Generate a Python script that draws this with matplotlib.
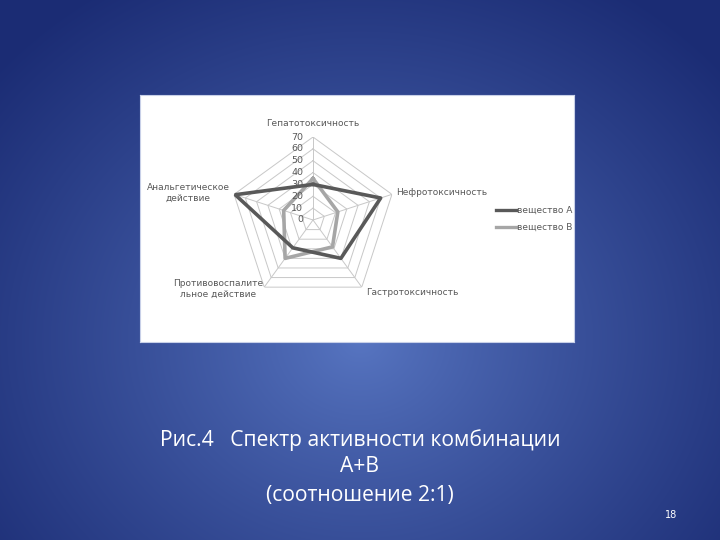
import numpy as np
import matplotlib.pyplot as plt
from matplotlib.lines import Line2D

# Data
categories = ["Гепатотоксичность", "Нефротоксичность", "Гастротоксичность",
              "Противовоспалите\nльное действие", "Анальгетическое\nдействие"]
substance_a = [30, 60, 40, 29, 69]
substance_b = [35, 22, 28, 40, 26]
ring_values = [0, 10, 20, 30, 40, 50, 60, 70]
series_names = ["вещество А", "вещество В"]

W, H = 720, 540
fig = plt.figure(figsize=(W / 100, H / 100), dpi=100)

# slide background: radial blue gradient
bg = fig.add_axes([0, 0, 1, 1])
yy, xx = np.mgrid[0:H, 0:W]
d = np.sqrt(((xx - 360) / 480) ** 2 + ((yy - 340) / 420) ** 2)
d = np.clip(d, 0, 1) ** 0.85
inner = np.array([0x58, 0x76, 0xc2]) / 255
outer = np.array([0x1b, 0x2c, 0x74]) / 255
img = inner[None, None, :] * (1 - d[..., None]) + outer[None, None, :] * d[..., None]
bg.imshow(img, extent=[0, W, H, 0], aspect="auto")
bg.set_xlim(0, W)
bg.set_ylim(H, 0)
bg.axis("off")

# white chart box
box = fig.add_axes([140 / W, 1 - 342 / H, 434 / W, 247 / H])
box.set_facecolor("white")
box.set_xticks([])
box.set_yticks([])
for s in box.spines.values():
    s.set_color("#c8d0e8")

# radar
cx, cy, R = 313, 220, 83
ax = fig.add_axes([(cx - R) / W, 1 - (cy + R) / H, 2 * R / W, 2 * R / H],
                  projection="polar")
ax.set_theta_offset(np.pi / 2)
ax.set_theta_direction(-1)
ax.set_ylim(0, 70)
ax.axis("off")
ax.patch.set_alpha(0)

n = len(categories)
angles = np.linspace(0, 2 * np.pi, n, endpoint=False)
closed = np.append(angles, angles[0])

grid_col = "#c8c8c8"
for v in ring_values[1:]:
    ax.plot(closed, [v] * (n + 1), color=grid_col, lw=0.7, zorder=1)
for a in angles:
    ax.plot([a, a], [0, 70], color=grid_col, lw=0.7, zorder=1)

ax.plot(closed, substance_a + substance_a[:1], color="#595959", lw=2.6, zorder=3)
ax.plot(closed, substance_b + substance_b[:1], color="#a6a6a6", lw=2.6, zorder=2)

txt_col = "#595959"
fs = 6.5
for v in ring_values:
    ax.annotate(str(v), xy=(0, v), xytext=(-7, 0), textcoords="offset points",
                ha="right", va="center", fontsize=fs + 0.3, color=txt_col,
                zorder=4)

# category labels
label_pos = [
    (0, 78, "center", "bottom"),
    (angles[1], 74, "left", "center"),
    (angles[2], 76, "left", "center"),
    (angles[3], 72, "right", "center"),
    (angles[4], 74, "right", "center"),
]
for cat, (a, r, ha, va) in zip(categories, label_pos):
    ax.text(a, r, cat, ha=ha, va=va, fontsize=fs, color=txt_col,
            multialignment="center", zorder=4, linespacing=1.2)

# legend
handles = [Line2D([], [], color="#595959", lw=2.4),
           Line2D([], [], color="#a6a6a6", lw=2.4)]
fig.legend(handles, series_names, loc="center left",
           bbox_to_anchor=(488 / W, 1 - 219 / H), frameon=False,
           fontsize=fs, labelcolor=txt_col, handlelength=2.2,
           handletextpad=0.1, labelspacing=0.9)

# caption
for y, line in zip([440, 467, 495],
                   ["Рис.4   Спектр активности комбинации", "А+В", "(соотношение 2:1)"]):
    bg.text(360, y, line, ha="center", va="center",
            fontsize=15.2, color="white", family="Open Sans")
bg.text(671, 515, "18", ha="center", va="center", fontsize=7, color="white")

fig.savefig("out.png", dpi=100)
